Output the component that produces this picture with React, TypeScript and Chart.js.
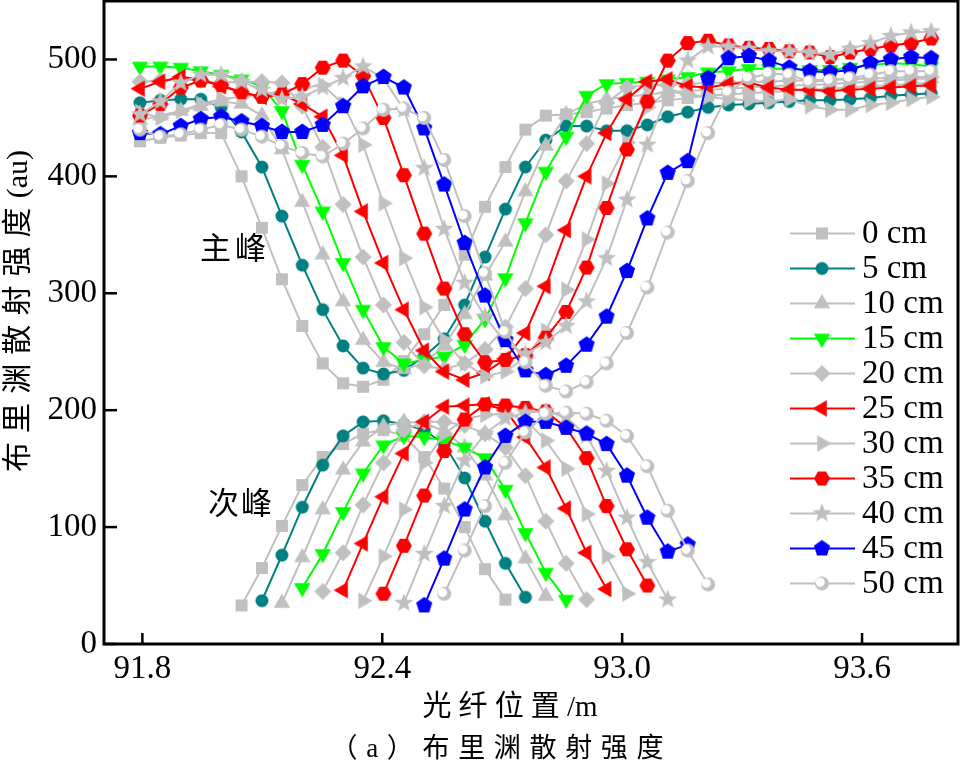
import React, { useEffect, useRef } from 'react';
import { Chart, registerables } from 'chart.js';

Chart.register(...registerables);

// ---- data ----
const X = [
  91.794, 91.845, 91.896, 91.946, 91.997, 92.048, 92.099, 92.149, 92.2, 92.251,
  92.302, 92.352, 92.403, 92.454, 92.505, 92.555, 92.606, 92.657, 92.708, 92.758,
  92.809, 92.86, 92.911, 92.961, 93.012, 93.063, 93.114, 93.164, 93.215, 93.266,
  93.317, 93.367, 93.418, 93.469, 93.52, 93.57, 93.621, 93.672, 93.723, 93.773,
];
const X_TICKS = [91.8, 92.4, 93.0, 93.6];
const Y_TICKS = [0, 100, 200, 300, 400, 500];
const LABELS = ['0 cm', '5 cm', '10 cm', '15 cm', '20 cm', '25 cm', '30 cm', '35 cm', '40 cm', '45 cm', '50 cm'];

// main peak (主峰)
const MAIN_0 = [430, 433, 435, 437, 437, 400, 356, 312, 272, 240, 223, 220, 226, 242, 265, 290, 333, 374, 408, 440, 452, 453, 455, 458, 461, 463, 465, 467, 469, 470, 471, 472, 473, 474, 475, 476, 477, 478, 479, 480];
const MAIN_5 = [463, 465, 466, 466, 459, 438, 408, 366, 324, 286, 255, 236, 231, 234, 246, 261, 290, 331, 372, 408, 431, 443, 443, 439, 439, 444, 451, 455, 459, 461, 462, 463, 464, 465, 465, 466, 467, 469, 470, 471];
const MAIN_10 = [448, 452, 456, 460, 464, 462, 452, 423, 378, 333, 293, 260, 241, 235, 240, 255, 282, 315, 344, 387, 426, 453, 462, 466, 468, 470, 472, 473, 474, 475, 476, 477, 478, 478, 479, 480, 481, 482, 483, 484];
const MAIN_15 = [494, 494, 493, 490, 487, 483, 477, 456, 410, 370, 326, 286, 254, 240, 243, 246, 256, 278, 313, 360, 404, 434, 469, 479, 480, 481, 483, 485, 489, 490, 492, 492, 492, 491, 491, 493, 495, 497, 496, 494];
const MAIN_20 = [481, 482, 483, 482, 480, 481, 481, 480, 460, 425, 376, 331, 290, 258, 238, 235, 240, 252, 271, 304, 350, 396, 428, 463, 476, 478, 478, 479, 480, 480, 481, 481, 482, 482, 483, 483, 484, 484, 485, 485];
const MAIN_25 = [475, 481, 485, 483, 477, 472, 468, 470, 462, 451, 418, 370, 326, 286, 251, 233, 226, 232, 244, 266, 306, 354, 400, 437, 466, 481, 483, 477, 476, 479, 480, 476, 474, 474, 473, 474, 475, 476, 477, 478];
const MAIN_30 = [455, 450, 456, 462, 466, 468, 470, 473, 476, 478, 462, 427, 377, 330, 288, 260, 240, 229, 233, 245, 268, 303, 346, 394, 429, 459, 473, 470, 468, 466, 465, 464, 466, 460, 457, 457, 461, 463, 466, 468];
const MAIN_35 = [452, 462, 476, 482, 478, 472, 468, 470, 479, 493, 499, 486, 450, 401, 351, 304, 265, 241, 243, 247, 262, 284, 322, 373, 423, 464, 499, 514, 516, 512, 510, 509, 507, 506, 502, 506, 509, 512, 514, 518];
const MAIN_40 = [453, 464, 480, 487, 487, 481, 474, 466, 468, 476, 484, 494, 484, 457, 407, 355, 309, 280, 258, 248, 258, 272, 293, 330, 380, 427, 470, 499, 511, 511, 509, 507, 507, 506, 504, 509, 514, 520, 523, 524];
const MAIN_45 = [437, 436, 443, 449, 451, 447, 443, 438, 438, 444, 460, 477, 485, 476, 441, 393, 343, 298, 260, 234, 230, 238, 256, 280, 319, 364, 403, 413, 484, 501, 503, 499, 493, 490, 489, 491, 497, 500, 502, 501];
const MAIN_50 = [440, 434, 436, 440, 444, 440, 434, 426, 420, 417, 428, 441, 457, 458, 450, 414, 366, 317, 267, 241, 221, 216, 224, 240, 266, 305, 352, 396, 437, 472, 484, 488, 487, 481, 482, 484, 487, 490, 490, 490];

// secondary peak (次峰): values start at X[SEC_START[i]]
const SEC_START = [5, 6, 7, 8, 9, 10, 11, 12, 13, 14, 15];
const SEC_0 = [33, 65, 101, 136, 160, 171, 180, 183, 178, 160, 133, 100, 64, 38];
const SEC_5 = [37, 76, 117, 153, 178, 190, 191, 188, 183, 171, 142, 105, 69, 40];
const SEC_10 = [35, 74, 115, 149, 173, 186, 190, 189, 182, 168, 144, 110, 73, 41];
const SEC_15 = [48, 77, 113, 146, 170, 178, 177, 174, 168, 159, 132, 95, 61, 38];
const SEC_20 = [45, 78, 119, 155, 183, 190, 190, 187, 180, 168, 144, 105, 69, 38];
const SEC_25 = [46, 86, 126, 163, 190, 203, 204, 205, 200, 177, 151, 116, 78, 47];
const SEC_30 = [37, 75, 115, 155, 180, 192, 196, 197, 192, 174, 150, 111, 75, 43];
const SEC_35 = [43, 84, 127, 165, 192, 205, 204, 202, 199, 185, 159, 118, 81, 50];
const SEC_40 = [35, 77, 118, 157, 180, 193, 198, 199, 194, 178, 148, 108, 70, 38];
const SEC_45 = [33, 73, 115, 151, 178, 190, 190, 185, 180, 171, 144, 108, 79, 85];
const SEC_50 = [43, 80, 118, 155, 181, 197, 198, 197, 191, 178, 152, 114, 80, 51];

const MAIN = [MAIN_0, MAIN_5, MAIN_10, MAIN_15, MAIN_20, MAIN_25, MAIN_30, MAIN_35, MAIN_40, MAIN_45, MAIN_50];
const SEC = [SEC_0, SEC_5, SEC_10, SEC_15, SEC_20, SEC_25, SEC_30, SEC_35, SEC_40, SEC_45, SEC_50];

// ---- styles ----
const GREY = '#c0c0c0';
const COLORS = [GREY, '#008080', GREY, '#00ff00', GREY, '#ff0000', GREY, '#ff0000', GREY, '#0000ff', GREY];
const SHAPES = ['square', 'circle', 'tri', 'triDown', 'diamond', 'triLeft', 'triRight', 'hex', 'star', 'pent', 'moon'];

const SERIF = '"Liberation Serif", "Times New Roman", "Noto Sans CJK SC", serif';

function polygon(ctx: CanvasRenderingContext2D, c: number, r: number, n: number, start: number) {
  ctx.beginPath();
  for (let i = 0; i < n; i++) {
    const a = start + (i * 2 * Math.PI) / n;
    const px = c + r * Math.cos(a);
    const py = c + r * Math.sin(a);
    if (i === 0) ctx.moveTo(px, py);
    else ctx.lineTo(px, py);
  }
  ctx.closePath();
  ctx.fill();
}

function makeMarker(shape: string, color: string): HTMLCanvasElement {
  const S = 24;
  const c = S / 2;
  const cv = document.createElement('canvas');
  cv.width = S;
  cv.height = S;
  const ctx = cv.getContext('2d') as CanvasRenderingContext2D;
  ctx.fillStyle = color;
  const up = -Math.PI / 2;
  switch (shape) {
    case 'square':
      ctx.fillRect(c - 6, c - 6, 12, 12);
      break;
    case 'circle':
      ctx.beginPath();
      ctx.arc(c, c, 6.5, 0, Math.PI * 2);
      ctx.fill();
      break;
    case 'tri':
      polygon(ctx, c, 9.5, 3, up);
      break;
    case 'triDown':
      polygon(ctx, c, 9.5, 3, Math.PI / 2);
      break;
    case 'triLeft':
      polygon(ctx, c, 9.5, 3, Math.PI);
      break;
    case 'triRight':
      polygon(ctx, c, 9.5, 3, 0);
      break;
    case 'diamond':
      polygon(ctx, c, 8.5, 4, up);
      break;
    case 'hex':
      polygon(ctx, c, 8, 6, 0);
      break;
    case 'pent':
      polygon(ctx, c, 8.5, 5, up);
      break;
    case 'star': {
      ctx.beginPath();
      for (let i = 0; i < 10; i++) {
        const r = i % 2 === 0 ? 10 : 4.2;
        const a = up + (i * Math.PI) / 5;
        const px = c + r * Math.cos(a);
        const py = c + r * Math.sin(a);
        if (i === 0) ctx.moveTo(px, py);
        else ctx.lineTo(px, py);
      }
      ctx.closePath();
      ctx.fill();
      break;
    }
    case 'moon':
      ctx.beginPath();
      ctx.arc(c, c, 7, 0, Math.PI * 2);
      ctx.fill();
      ctx.fillStyle = '#ffffff';
      ctx.beginPath();
      ctx.arc(c - 1.8, c - 1.2, 4.6, 0, Math.PI * 2);
      ctx.fill();
      break;
  }
  return cv;
}

// draws text centred at (cx, cy); CJK glyphs are spread out, latin runs stay tight
function spacedText(ctx: CanvasRenderingContext2D, text: string, cx: number, cy: number, font: string, width: number) {
  ctx.font = font;
  ctx.textAlign = 'left';
  ctx.textBaseline = 'middle';
  const tokens = text.match(/[\u3000-\u9fff\uff00-\uffef]|[^\u3000-\u9fff\uff00-\uffef]+/g) || [];
  const widths = tokens.map((t) => ctx.measureText(t).width);
  const w0 = widths.reduce((s, w) => s + w, 0);
  const sp = tokens.length > 1 ? (width - w0) / (tokens.length - 1) : 0;
  let x = cx - width / 2;
  tokens.forEach((t, i) => {
    ctx.fillText(t, x, cy);
    x += widths[i] + sp;
  });
}

export default function App() {
  const ref = useRef<HTMLCanvasElement | null>(null);

  useEffect(() => {
    const canvas = ref.current;
    if (!canvas) return;
    const markers = SHAPES.map((s, i) => makeMarker(s, COLORS[i]));

    const datasets: any[] = [];
    MAIN.forEach((vals, i) => {
      datasets.push({
        label: LABELS[i],
        data: vals.map((y, k) => ({ x: X[k], y })),
        borderColor: COLORS[i],
        backgroundColor: COLORS[i],
        borderWidth: 2,
        pointStyle: markers[i],
        pointRadius: 7,
        pointHoverRadius: 7,
        tension: 0,
        order: 100 - i,
      });
    });
    SEC.forEach((vals, i) => {
      datasets.push({
        label: LABELS[i] + ' sec',
        data: vals.map((y, k) => ({ x: X[SEC_START[i] + k], y })),
        borderColor: COLORS[i],
        backgroundColor: COLORS[i],
        borderWidth: 2,
        pointStyle: markers[i],
        pointRadius: 7,
        pointHoverRadius: 7,
        tension: 0,
        order: 100 - i,
      });
    });

    const decor = {
      id: 'decor',
      afterDraw(chart: any) {
        const { ctx, chartArea: a, scales } = chart;
        ctx.save();
        ctx.strokeStyle = '#000';
        ctx.lineWidth = 3;
        ctx.strokeRect(a.left, a.top, a.right - a.left, a.bottom - a.top);
        ctx.lineWidth = 2.5;
        X_TICKS.forEach((v) => {
          const x = scales.x.getPixelForValue(v);
          ctx.beginPath();
          ctx.moveTo(x, a.bottom);
          ctx.lineTo(x, a.bottom - 11);
          ctx.stroke();
        });
        Y_TICKS.forEach((v) => {
          const y = scales.y.getPixelForValue(v);
          ctx.beginPath();
          ctx.moveTo(a.left, y);
          ctx.lineTo(a.left + 13, y);
          ctx.stroke();
        });

        // legend
        LABELS.forEach((lab, i) => {
          const y = 233.5 + i * 35;
          ctx.strokeStyle = COLORS[i];
          ctx.lineWidth = 2;
          ctx.beginPath();
          ctx.moveTo(790, y);
          ctx.lineTo(855, y);
          ctx.stroke();
          const m = markers[i];
          ctx.drawImage(m, 822 - m.width / 2, y - m.height / 2);
          ctx.fillStyle = '#000';
          ctx.font = '33px ' + SERIF;
          ctx.textAlign = 'left';
          ctx.textBaseline = 'middle';
          ctx.fillText(lab, 862, y + 1);
        });

        // texts
        ctx.fillStyle = '#000';
        spacedText(ctx, '主峰', 233, 251, '31px ' + SERIF, 66);
        spacedText(ctx, '次峰', 240, 506, '31px ' + SERIF, 64);
        spacedText(ctx, '光纤位置/m', 510, 708, '29px ' + SERIF, 175);
        spacedText(ctx, '（a）布里渊散射强度', 497, 750, '27px ' + SERIF, 333);
        ctx.save();
        ctx.translate(19, 311);
        ctx.rotate(-Math.PI / 2);
        spacedText(ctx, '布里渊散射强度(au)', 0, 0, '30px ' + SERIF, 322);
        ctx.restore();
        ctx.restore();
      },
    };

    const chart = new Chart(canvas, {
      type: 'line',
      data: { datasets },
      options: {
        animation: false,
        responsive: false,
        devicePixelRatio: 1,
        layout: { autoPadding: false, padding: { left: 0, right: 4, top: 1, bottom: 0 } },
        plugins: { legend: { display: false }, tooltip: { enabled: false } },
        events: [],
        scales: {
          x: {
            type: 'linear',
            min: 91.704,
            max: 93.84,
            afterBuildTicks: (s: any) => {
              s.ticks = X_TICKS.map((v) => ({ value: v }));
            },
            afterFit: (s: any) => {
              s.height = 122;
              s.paddingLeft = 0;
              s.paddingRight = 0;
            },
            ticks: {
              color: '#000',
              font: { family: SERIF, size: 33 },
              padding: 6,
              maxRotation: 0,
              autoSkip: false,
              callback: (v: any) => Number(v).toFixed(1),
            },
            grid: { display: false, drawTicks: false, tickLength: 0 },
            border: { display: false },
          },
          y: {
            type: 'linear',
            min: 0,
            max: 550,
            afterBuildTicks: (s: any) => {
              s.ticks = Y_TICKS.map((v) => ({ value: v }));
            },
            afterFit: (s: any) => {
              s.width = 104;
              s.paddingTop = 0;
              s.paddingBottom = 0;
            },
            ticks: {
              color: '#000',
              font: { family: SERIF, size: 33 },
              padding: 7,
              autoSkip: false,
            },
            grid: { display: false, drawTicks: false, tickLength: 0 },
            border: { display: false },
          },
        },
      },
      plugins: [decor],
    });
    return () => chart.destroy();
  }, []);

  return (
    <div style={{ position: 'absolute', left: 0, top: 0, width: 962, height: 766, background: '#fff' }}>
      <canvas ref={ref} width={962} height={766} style={{ width: 962, height: 766, display: 'block' }} />
    </div>
  );
}
